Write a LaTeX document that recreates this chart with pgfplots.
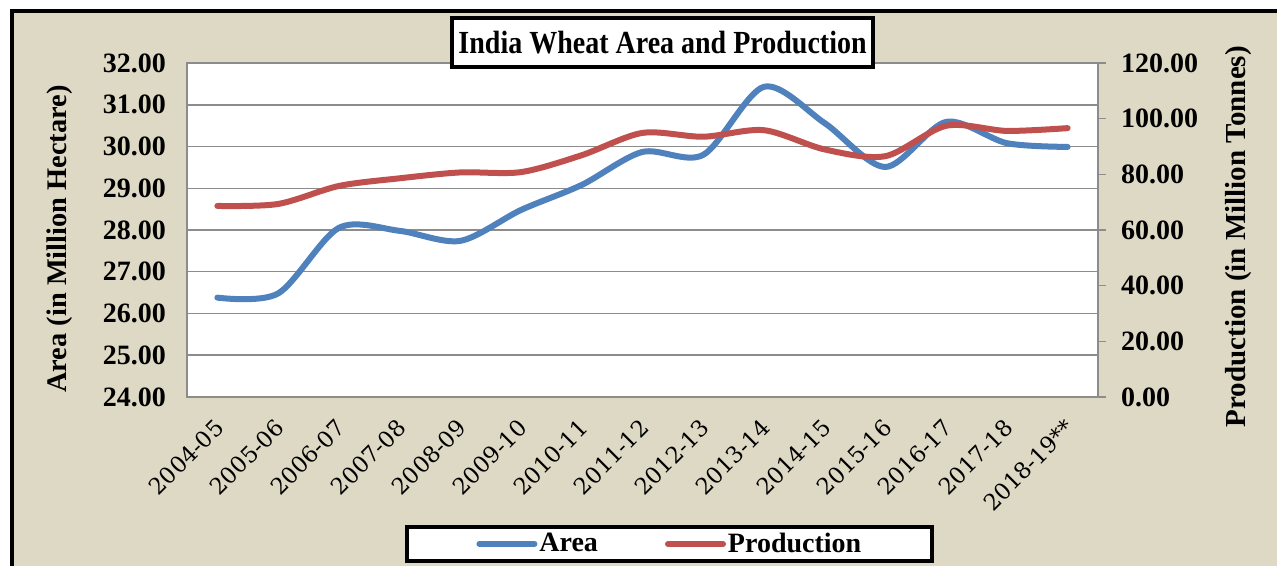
\documentclass[border=0pt]{standalone}
\usepackage{fontspec}
\setmainfont{Liberation Serif}
\newfontfamily\tickfont{DejaVu Serif}
\usepackage{graphicx}
\usepackage{pgfplots}
\pgfplotsset{compat=1.18}
\definecolor{areablue}{HTML}{4F81BD}
\definecolor{prodred}{HTML}{C0504D}
\definecolor{bgbeige}{HTML}{DDD9C4}
\definecolor{gridgray}{HTML}{8C8C8C}
\begin{document}
\begin{tikzpicture}
\useasboundingbox (0,0) rectangle (638.5pt,283pt);
\fill[white] (0,0) rectangle (638.5pt,283pt);
\fill[bgbeige] (6pt,0) rectangle (638.5pt,277.25pt);
\draw[line width=2pt] (6pt,-2pt) -- (6pt,277.25pt) -- (640pt,277.25pt);
\begin{axis}[
  at={(93.5pt,84.5pt)}, anchor=south west,
  scale only axis, width=455.5pt, height=167pt,
  xmin=-0.5, xmax=14.5, ymin=24, ymax=32,
  ytick={24,25,...,32},
  xtick={0,...,14},
  xticklabels={2004-05,2005-06,2006-07,2007-08,2008-09,2009-10,2010-11,2011-12,2012-13,2013-14,2014-15,2015-16,2016-17,2017-18,2018-19**},
  axis background/.style={fill=white},
  axis line style={draw=gridgray, line width=0.75pt},
  ymajorgrids, grid style={draw=gridgray, line width=0.75pt},
  major tick length=0pt,
  /pgf/number format/assume math mode=true,
  yticklabel style={font=\bfseries\fontsize{14}{16}\selectfont, xshift=-7pt,
    /pgf/number format/.cd, fixed, fixed zerofill, precision=2},
  xticklabel style={font=\tickfont\fontsize{11.3}{13}\selectfont, xshift=3.5pt, yshift=-11pt, rotate=45, anchor=east},
  ylabel={Area (in Million Hectare)},
  every axis y label/.style={at={(axis description cs:-0.1394,0.473)}, anchor=center, rotate=90, font=\bfseries\fontsize{14.2}{16}\selectfont},
  title={\scalebox{1}[1.15]{India Wheat Area and Production}},
  every axis title/.style={at={(axis description cs:0.522,1.061)}, anchor=center, draw=black, line width=2pt, fill=white, minimum width=210.5pt, minimum height=24.5pt, inner sep=0pt, font=\bfseries\fontsize{14}{16}\selectfont},
]
\addplot[areablue, line width=3pt, smooth, line cap=round] coordinates {
(0,26.38) (1,26.48) (2,28.05) (3,27.98) (4,27.74) (5,28.48) (6,29.08) (7,29.87)
(8,29.80) (9,31.43) (10,30.56) (11,29.51) (12,30.59) (13,30.08) (14,29.99)};
\end{axis}
\begin{axis}[
  at={(93.5pt,84.5pt)}, anchor=south west,
  scale only axis, width=455.5pt, height=167pt,
  xmin=-0.5, xmax=14.5, ymin=0, ymax=120,
  ytick={0,20,...,120},
  axis y line*=right, axis x line=none,
  y axis line style={draw=gridgray, line width=0.75pt},
  tick align=outside, major tick length=4pt,
  ytick style={draw=gridgray, line width=0.75pt},
  /pgf/number format/assume math mode=true,
  yticklabel style={font=\bfseries\fontsize{14}{16}\selectfont, xshift=4pt,
    /pgf/number format/.cd, fixed, fixed zerofill, precision=2},
  ylabel={Production (in Million Tonnes)},
  every axis y label/.style={at={(axis description cs:1.1537,0.480)}, anchor=center, rotate=90, font=\bfseries\fontsize{14.5}{16}\selectfont},
  legend columns=2,
  legend image code/.code={\draw[#1] (0pt,0pt) -- (27.5pt,0pt);},
  legend style={at={(0.530,-0.440)}, anchor=center, draw=black, line width=2pt, fill=white,
    font=\bfseries\fontsize{14}{16}\selectfont, inner xsep=34.5pt, inner ysep=1pt,
    nodes={inner xsep=1pt},
    /tikz/every even column/.append style={column sep=32.5pt}},
]
\addlegendimage{areablue, line width=3pt, line cap=round}
\addlegendentry{Area}
\addplot[prodred, line width=3pt, smooth, line cap=round] coordinates {
(0,68.64) (1,69.35) (2,75.81) (3,78.57) (4,80.68) (5,80.80) (6,86.87) (7,94.88)
(8,93.51) (9,95.85) (10,88.94) (11,86.53) (12,97.44) (13,95.60) (14,96.60)};
\addlegendentry{Production}
\end{axis}
\end{tikzpicture}
\end{document}
